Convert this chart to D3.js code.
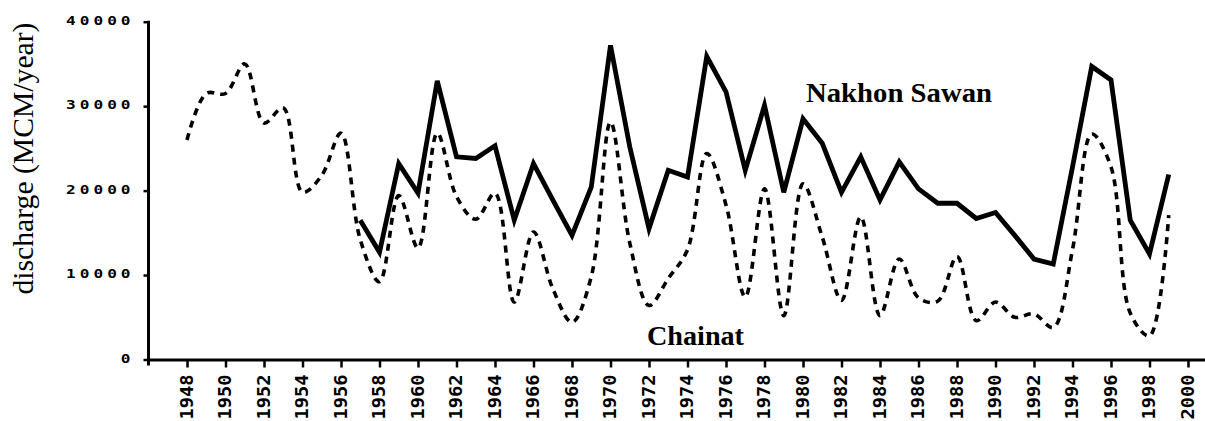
<!DOCTYPE html>
<html>
<head>
<meta charset="utf-8">
<script src="https://cdn.jsdelivr.net/npm/d3@7"></script>
<style>
  html, body { margin: 0; padding: 0; background: #fff; }
  svg { display: block; }
</style>
</head>
<body>
<div id="chart"></div>
<script>
// ---- data ----
const years = [1948,1949,1950,1951,1952,1953,1954,1955,1956,1957,1958,1959,1960,1961,1962,1963,1964,1965,1966,1967,1968,1969,1970,1971,1972,1973,1974,1975,1976,1977,1978,1979,1980,1981,1982,1983,1984,1985,1986,1987,1988,1989,1990,1991,1992,1993,1994,1995,1996,1997,1998,1999];
const chainat = [26000,31500,31500,35000,28000,29800,19800,21800,26800,14200,9200,19400,13200,26800,19300,16600,19700,6800,15100,8400,4400,9800,28100,13800,6400,9600,13000,24400,18300,7400,20200,5200,20800,14500,7000,16900,5200,11900,7300,6900,12200,4600,6800,5000,5400,3800,13000,26700,22800,5500,2800,17100];
const nakhonSawan = [null,null,null,null,null,null,null,null,null,16500,12700,23200,19700,33000,24000,23800,25300,16500,23200,18900,14700,20400,37200,25200,15500,22400,21600,35900,31700,22400,30100,19800,28500,25600,19800,24000,18900,23400,20200,18500,18500,16700,17400,14700,11900,11300,22800,34700,33100,16500,12500,21900];
const xTickValues = [1948,1950,1952,1954,1956,1958,1960,1962,1964,1966,1968,1970,1972,1974,1976,1978,1980,1982,1984,1986,1988,1990,1992,1994,1996,1998,2000];
const yTickValues = [0,10000,20000,30000,40000];
const yTitle = "discharge (MCM/year)";
const seriesLabels = ["Nakhon Sawan", "Chainat"];

// ---- layout ----
const W = 1205, H = 421;
const svg = d3.select("#chart").append("svg").attr("width", W).attr("height", H);

const x = d3.scaleLinear().domain([1946, 2001]).range([148.5, 1207.25]);
const y = d3.scaleLinear().domain([0, 40000]).range([359.5, 21.7]);

// x axis
const xAxis = svg.append("g")
  .attr("transform", `translate(0,${y(0)})`)
  .call(d3.axisBottom(x).tickValues(xTickValues).tickFormat(d3.format("d")).tickSize(8).tickSizeOuter(0));
xAxis.select(".domain").attr("stroke", "#000").attr("stroke-width", 3);
xAxis.selectAll(".tick line").attr("stroke", "#000").attr("stroke-width", 2.5);
xAxis.selectAll(".tick text")
  .attr("font-family", "'DejaVu Sans Mono', monospace")
  .attr("font-weight", "bold")
  .attr("font-size", 18)
  .attr("fill", "#000")
  .attr("text-anchor", "end")
  .attr("textLength", 45)
  .attr("lengthAdjust", "spacingAndGlyphs")
  .attr("y", 0).attr("dy", 0)
  .attr("transform", "translate(5,15) rotate(-90)");

// y axis
const yAxis = svg.append("g")
  .attr("transform", `translate(${x(1946)},0)`)
  .call(d3.axisLeft(y).tickValues(yTickValues).tickFormat(d3.format("d")).tickSize(5).tickSizeOuter(0));
yAxis.select(".domain").attr("stroke", "#000").attr("stroke-width", 3)
  .attr("d", `M0,${y(40000)-1}V${y(0)+6}`);
yAxis.selectAll(".tick line").attr("stroke", "#000").attr("stroke-width", 2.5);
yAxis.selectAll(".tick text")
  .attr("font-family", "'DejaVu Sans Mono', monospace")
  .attr("font-weight", "bold")
  .attr("font-size", 14)
  .attr("fill", "#000")
  .attr("x", 0)
  .attr("dy", "0.2em")
  .attr("transform", "translate(-18,0) scale(1.15,0.92)")
  .each(function(d) {
    if (d !== 0) d3.select(this).attr("textLength", 56).attr("lengthAdjust", "spacing");
  });

// y title
svg.append("text")
  .attr("transform", `translate(33,${(22+295)/2}) rotate(-90)`)
  .attr("text-anchor", "middle")
  .attr("font-family", "'Liberation Serif', 'Times New Roman', serif")
  .attr("font-size", 29)
  .attr("textLength", 272)
  .attr("lengthAdjust", "spacingAndGlyphs")
  .attr("fill", "#000")
  .text(yTitle);

// lines
const chainatData = years.map((yr, i) => ({yr, v: chainat[i]}));
const nsData = years.map((yr, i) => ({yr, v: nakhonSawan[i]})).filter(d => d.v !== null);

svg.append("path")
  .datum(chainatData)
  .attr("fill", "none")
  .attr("stroke", "#000")
  .attr("stroke-width", 3.6)
  .attr("stroke-dasharray", "7,6")
  .attr("d", d3.line().x(d => x(d.yr)).y(d => y(d.v)).curve(d3.curveCatmullRom.alpha(0.5)));

svg.append("path")
  .datum(nsData)
  .attr("fill", "none")
  .attr("stroke", "#000")
  .attr("stroke-width", 4.8)
  .attr("stroke-linejoin", "miter")
  .attr("d", d3.line().x(d => x(d.yr)).y(d => y(d.v)));

// series labels
svg.append("text")
  .attr("x", 806).attr("y", 102)
  .attr("font-family", "'Liberation Serif', 'Times New Roman', serif")
  .attr("font-weight", "bold")
  .attr("font-size", 27)
  .attr("textLength", 186)
  .attr("lengthAdjust", "spacingAndGlyphs")
  .attr("fill", "#000")
  .text(seriesLabels[0]);

svg.append("text")
  .attr("x", 647).attr("y", 345)
  .attr("font-family", "'Liberation Serif', 'Times New Roman', serif")
  .attr("font-weight", "bold")
  .attr("font-size", 27)
  .attr("textLength", 97)
  .attr("lengthAdjust", "spacingAndGlyphs")
  .attr("fill", "#000")
  .text(seriesLabels[1]);
</script>
</body>
</html>
